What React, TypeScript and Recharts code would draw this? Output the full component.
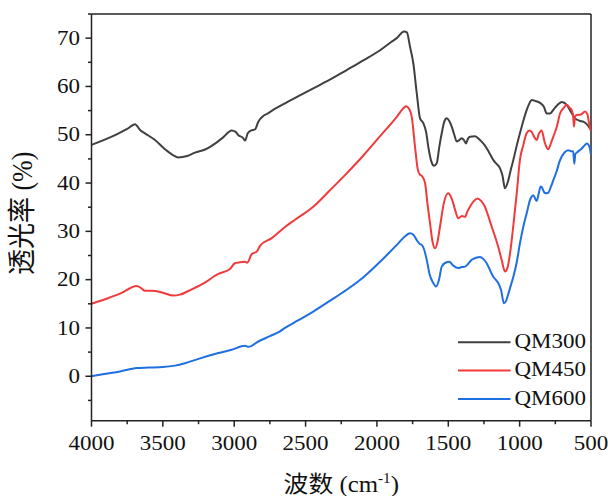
import React from 'react';
import { LineChart, Line, XAxis, YAxis, ReferenceLine } from 'recharts';

// wavenumber (cm-1) and transmittance (%)
const qm300Wn = [4000, 3850, 3750, 3695, 3660, 3625, 3555, 3485, 3430, 3392, 3330, 3275, 3200, 3158, 3080, 3018, 2990, 2971, 2940, 2924, 2905, 2880, 2854, 2831, 2800, 2772, 2700, 2644, 2550, 2446, 2330, 2212, 2095, 1978, 1900, 1861, 1810, 1790, 1768, 1745, 1721, 1698, 1675, 1655, 1640, 1620, 1600, 1581, 1563, 1546, 1528, 1511, 1494, 1476, 1458, 1441, 1423, 1406, 1390, 1376, 1362, 1348, 1313, 1278, 1255, 1231, 1208, 1185, 1160, 1138, 1120, 1103, 1080, 1060, 1044, 1020, 998, 975, 951, 930, 916, 890, 857, 830, 810, 787, 760, 730, 705, 670, 640, 612, 580, 554, 530, 507, 500];
const qm300T = [47.9, 49.7, 51.2, 52.2, 51.0, 50.3, 48.9, 47.0, 45.8, 45.3, 45.6, 46.3, 47.0, 47.7, 49.4, 50.9, 50.6, 49.9, 49.4, 48.8, 50.3, 50.9, 51.1, 52.7, 53.8, 54.3, 55.6, 56.5, 58.0, 59.6, 61.4, 63.4, 65.4, 67.5, 69.2, 70.0, 71.4, 71.2, 68.2, 64.8, 58.6, 53.4, 52.4, 50.5, 47.5, 44.6, 43.6, 44.1, 47.5, 50.3, 52.7, 53.4, 52.9, 51.7, 50.0, 48.6, 48.9, 49.3, 48.9, 48.2, 49.2, 49.6, 49.7, 48.9, 48.2, 47.2, 46.0, 44.8, 43.9, 43.1, 41.5, 38.9, 40.5, 43.0, 44.8, 47.8, 50.3, 52.8, 55.1, 56.6, 57.2, 57.0, 56.6, 55.8, 54.4, 54.4, 55.3, 56.3, 56.8, 56.2, 54.7, 53.4, 52.9, 52.7, 52.2, 51.3, 51.0];

const qm450Wn = [4000, 3900, 3800, 3683, 3650, 3625, 3578, 3500, 3427, 3380, 3298, 3205, 3111, 3053, 3030, 2995, 2960, 2924, 2910, 2877, 2842, 2819, 2737, 2644, 2574, 2446, 2329, 2212, 2095, 1978, 1861, 1820, 1796, 1775, 1756, 1733, 1715, 1700, 1686, 1663, 1645, 1628, 1610, 1593, 1576, 1558, 1530, 1500, 1482, 1465, 1448, 1430, 1405, 1383, 1365, 1348, 1320, 1296, 1270, 1243, 1220, 1196, 1172, 1150, 1126, 1103, 1085, 1067, 1045, 1020, 998, 975, 951, 930, 916, 900, 881, 865, 846, 825, 810, 799, 780, 764, 740, 717, 690, 670, 650, 635, 625, 619, 612, 600, 570, 542, 525, 507, 500];
const qm450T = [15.0, 16.0, 17.1, 18.7, 18.2, 17.7, 17.7, 17.3, 16.7, 16.9, 18.0, 19.4, 21.2, 21.8, 22.2, 23.4, 23.6, 23.7, 23.5, 25.3, 25.8, 27.0, 28.6, 30.9, 32.4, 35.1, 38.5, 42.0, 45.7, 49.7, 53.7, 55.3, 55.9, 55.4, 53.7, 47.5, 43.0, 41.8, 41.5, 40.0, 35.5, 31.7, 27.8, 26.5, 27.8, 31.0, 36.0, 37.9, 37.2, 35.8, 34.0, 32.7, 33.2, 33.0, 34.2, 35.1, 36.3, 36.8, 36.3, 35.1, 33.2, 31.0, 28.9, 26.8, 24.1, 21.7, 22.5, 25.5, 31.0, 38.0, 44.8, 47.8, 50.3, 50.9, 50.6, 49.7, 48.9, 50.2, 50.9, 48.5, 47.3, 47.0, 48.3, 49.6, 51.6, 54.4, 55.6, 56.2, 55.6, 55.1, 53.8, 51.7, 53.8, 54.1, 54.2, 54.8, 54.2, 51.3, 50.8];

const qm600Wn = [4000, 3900, 3800, 3683, 3600, 3500, 3415, 3345, 3250, 3111, 3018, 2924, 2900, 2831, 2750, 2679, 2644, 2550, 2446, 2330, 2212, 2095, 1978, 1920, 1861, 1810, 1768, 1745, 1721, 1700, 1686, 1670, 1651, 1630, 1605, 1586, 1565, 1546, 1520, 1493, 1465, 1430, 1405, 1383, 1360, 1336, 1300, 1278, 1255, 1231, 1208, 1185, 1165, 1150, 1130, 1110, 1095, 1080, 1065, 1044, 1021, 998, 974, 951, 927, 916, 904, 881, 865, 853, 846, 825, 810, 799, 780, 764, 740, 720, 705, 680, 660, 640, 625, 617, 610, 600, 570, 545, 530, 515, 502, 500];
const qm600T = [0.0, 0.5, 1.0, 1.7, 1.8, 1.9, 2.2, 2.7, 3.6, 4.8, 5.5, 6.3, 6.1, 7.2, 8.3, 9.3, 10.0, 11.6, 13.4, 15.6, 17.9, 20.5, 23.7, 25.4, 27.2, 28.8, 29.6, 29.3, 28.2, 27.4, 27.2, 26.3, 24.1, 21.0, 19.3, 18.6, 20.0, 22.7, 23.5, 23.7, 22.9, 22.4, 22.6, 22.7, 23.3, 24.1, 24.6, 24.7, 24.3, 23.4, 22.0, 20.6, 19.9, 19.3, 17.8, 15.1, 15.6, 17.0, 18.5, 20.6, 23.5, 27.5, 31.0, 33.7, 36.5, 37.2, 37.5, 36.3, 38.0, 39.3, 39.2, 38.0, 37.9, 38.0, 39.3, 40.6, 42.5, 44.5, 45.5, 46.5, 46.8, 46.6, 46.6, 44.0, 46.0, 46.3, 47.0, 47.8, 48.2, 47.8, 46.2, 45.8];

const seriesNames = ['QM300', 'QM450', 'QM600'];
const xTicks = [4000, 3750, 3500, 3250, 3000, 2750, 2500, 2250, 2000, 1750, 1500, 1250, 1000, 750, 500];
const yTicks = [-5, 0, 5, 10, 15, 20, 25, 30, 35, 40, 45, 50, 55, 60, 65, 70, 75];

const colors = ['#404040', '#F03A3B', '#1F6FE0'];
const FONT = '"Liberation Serif", "Times New Roman", "Noto Sans CJK SC", serif';
const STRETCH = 1.15;
const AXIS = '#222';

const toPoints = (wn: number[], t: number[]) => wn.map((w, i) => ({ wn: w, t: t[i] }));
const series = [toPoints(qm300Wn, qm300T), toPoints(qm450Wn, qm450T), toPoints(qm600Wn, qm600T)];

const XTick = ({ x, y, payload }: any) => {
  const major = payload.value % 500 === 0;
  return (
    <g>
      <line x1={x} y1={y} x2={x} y2={y + (major ? 6 : 3.5)} stroke={AXIS} strokeWidth={1.5} />
      {major && (
        <text transform={`translate(${x},${y + 29}) scale(${STRETCH},1)`} textAnchor="middle"
          fontSize={20} fontFamily={FONT} fill="#111">{payload.value}</text>
      )}
    </g>
  );
};

const YTick = ({ x, y, payload }: any) => {
  const major = payload.value % 10 === 0;
  return (
    <g>
      <line x1={x} y1={y} x2={x - (major ? 6 : 3.5)} y2={y} stroke={AXIS} strokeWidth={1.5} />
      {major && (
        <text transform={`translate(${x - 11.5},${y + 6.7}) scale(${STRETCH},1)`} textAnchor="end"
          fontSize={20} fontFamily={FONT} fill="#111">{payload.value}</text>
      )}
    </g>
  );
};

const XTitle = ({ viewBox }: any) => (
  <text transform={`translate(${viewBox.x + viewBox.width / 2},${viewBox.y + 71}) scale(1.08,1)`}
    textAnchor="middle" fontSize={23} fontFamily={FONT} fill="#111">
    波数 (cm<tspan fontSize={14} dy={-9}>-1</tspan><tspan dy={9}>)</tspan>
  </text>
);

const YTitle = ({ viewBox }: any) => (
  <text transform={`translate(${viewBox.x + 32},${viewBox.y + viewBox.height / 2 - 4}) rotate(-90) scale(1,1.1)`}
    textAnchor="middle" fontSize={26} fontFamily={FONT} fill="#111">
    透光率 (%)
  </text>
);

const LegendBox = () => (
  <svg width={150} height={90} style={{ position: 'absolute', left: 450, top: 320 }}>
    {seriesNames.map((name, i) => (
      <g key={name}>
        <line x1={8} x2={60.5} y1={22.3 + i * 28.3} y2={22.3 + i * 28.3} stroke={colors[i]} strokeWidth={2} />
        <text transform={`translate(64.4,${28 + i * 28.3}) scale(${STRETCH},1)`} fontSize={20}
          fontFamily={FONT} fill="#111">{name}</text>
      </g>
    ))}
  </svg>
);

export default function App() {
  return (
    <div style={{ position: 'absolute', left: 0, top: 0, width: 608, height: 496, background: '#fff' }}>
      <LineChart width={608} height={496} margin={{ top: 14, right: 17, bottom: 0, left: 0 }}>
        <XAxis dataKey="wn" type="number" domain={[500, 4000]} reversed ticks={xTicks} interval={0}
          height={75.3} tickSize={0} tickMargin={0} tickLine={false} tick={<XTick />}
          axisLine={{ stroke: AXIS, strokeWidth: 1.5 }} allowDataOverflow label={<XTitle />} />
        <YAxis type="number" domain={[-9.2, 75]} ticks={yTicks} interval={0} width={91.5}
          tickSize={0} tickMargin={0} tickLine={false} tick={<YTick />}
          axisLine={{ stroke: AXIS, strokeWidth: 1.5 }} allowDataOverflow label={<YTitle />} />
        <ReferenceLine y={75} stroke={AXIS} strokeWidth={1.5} />
        <ReferenceLine x={500} stroke={AXIS} strokeWidth={1.5} />
        {series.map((d, i) => (
          <Line key={seriesNames[i]} data={d} dataKey="t" name={seriesNames[i]} type="monotone"
            stroke={colors[i]} strokeWidth={2} dot={false} isAnimationActive={false} />
        ))}
      </LineChart>
      <LegendBox />
    </div>
  );
}
